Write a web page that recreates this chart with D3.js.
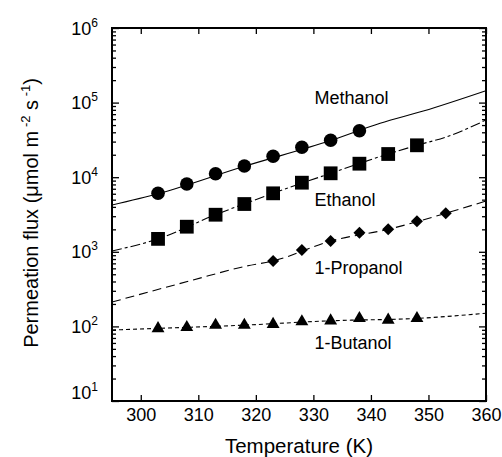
<!DOCTYPE html>
<html>
<head>
<meta charset="utf-8">
<script src="https://cdn.jsdelivr.net/npm/d3@7"></script>
<style>
  body { margin: 0; background: #fff; }
  text { font-family: "Liberation Sans", Arial, Helvetica, sans-serif; fill: #000; }
</style>
</head>
<body>
<svg id="chart" width="502" height="457"></svg>
<script>
// Measured permeation flux (µmol m^-2 s^-1) vs temperature (K)
const methanolT = [303, 308, 313, 318, 323, 328, 333, 338];
const methanolFlux = [6080, 8110, 11140, 14130, 19050, 25180, 31240, 42000];

const ethanolT = [303, 308, 313, 318, 323, 328, 333, 338, 343, 348];
const ethanolFlux = [1490, 2170, 3140, 4370, 6080, 8440, 11280, 15170, 20460, 26770];

const propanolT = [323, 328, 333, 338, 343, 348, 353];
const propanolFlux = [753, 1057, 1396, 1803, 2003, 2563, 3281];

const butanolT = [303, 308, 313, 318, 323, 328, 333, 338, 343, 348];
const butanolFlux = [94, 97, 104, 104, 107, 116, 119, 128, 122, 128];

// Model curves (temperature, flux) across the full axis range
const methanolFitT = [295, 303, 318, 333, 341.6, 349.1, 360];
const methanolFitFlux = [4240, 6000, 14000, 31000, 52800, 77000, 144500];

const ethanolFitT = [295, 303, 313, 323, 333, 343, 348, 353.2, 360];
const ethanolFitFlux = [1025, 1490, 3140, 6080, 11280, 20460, 26770, 34900, 58400];

const propanolFitT = [295, 309.1, 318.4, 323, 333, 343, 353, 360];
const propanolFitFlux = [212, 419, 645, 753, 1396, 2003, 3281, 4800];

const butanolFitT = [295, 303, 318, 333, 348, 360];
const butanolFitFlux = [89.5, 94, 104, 119, 128, 150];

// Axis ticks
const xTicks = [300, 310, 320, 330, 340, 350, 360];
const yDecades = [1e1, 1e2, 1e3, 1e4, 1e5, 1e6];
const yExponents = ["1", "2", "3", "4", "5", "6"];

const seriesLabels = ["Methanol", "Ethanol", "1-Propanol", "1-Butanol"];

const svg = d3.select("#chart");
const x = d3.scaleLinear().domain([295, 360]).range([112, 486]);
const y = d3.scaleLog().domain([10, 1e6]).range([401, 28]);

const minorY = [];
for (let d = 10; d < 1e6; d *= 10) {
  for (let k = 2; k <= 9; k++) minorY.push(d * k);
}

// Inward ticks on all four sides
function styleAxis(g) {
  g.select(".domain").remove();
  g.selectAll(".tick line").attr("stroke", "#000").attr("stroke-width", 1.3);
}

svg.append("g")
  .attr("transform", `translate(0,${y.range()[0]})`)
  .call(d3.axisBottom(x).tickValues(xTicks).tickSize(-6).tickSizeOuter(0).tickPadding(7))
  .call(styleAxis)
  .call(g => g.selectAll(".tick text").attr("font-size", 18).attr("fill", "#000")
    .style("font-family", '"Liberation Sans", Arial, sans-serif'));

svg.append("g")
  .attr("transform", `translate(0,${y.range()[1]})`)
  .call(d3.axisTop(x).tickValues(xTicks).tickSize(-6).tickSizeOuter(0).tickFormat(""))
  .call(styleAxis);

[[d3.axisLeft, 112], [d3.axisRight, 486]].forEach(([axisFn, px]) => {
  svg.append("g")
    .attr("transform", `translate(${px},0)`)
    .call(axisFn(y).tickValues(yDecades).tickSize(-7).tickSizeOuter(0).tickFormat(""))
    .call(styleAxis);
  svg.append("g")
    .attr("transform", `translate(${px},0)`)
    .call(axisFn(y).tickValues(minorY).tickSize(-4).tickSizeOuter(0).tickFormat(""))
    .call(styleAxis);
});

// Plot frame
svg.append("rect")
  .attr("x", x.range()[0]).attr("y", y.range()[1])
  .attr("width", x.range()[1] - x.range()[0])
  .attr("height", y.range()[0] - y.range()[1])
  .attr("fill", "none").attr("stroke", "#000").attr("stroke-width", 2);

// Power-of-ten labels on the left axis
const yLab = svg.append("g");
yDecades.forEach((v, i) => {
  const lift = i === 0 ? -9 : 0;
  const t = yLab.append("text")
    .attr("x", 98).attr("y", y(v) + 6.5 + lift)
    .attr("text-anchor", "end");
  t.append("tspan").attr("font-size", 18).text("10");
  t.append("tspan").attr("font-size", 12).attr("dy", -8).text(yExponents[i]);
});

// Axis titles
svg.append("text")
  .attr("x", 299).attr("y", 453)
  .attr("text-anchor", "middle").attr("font-size", 20.5)
  .text("Temperature (K)");

const yt = svg.append("text")
  .attr("transform", "translate(38,213) rotate(-90)")
  .attr("text-anchor", "middle").attr("font-size", 20);
yt.append("tspan").text("Permeation flux (\u03bcmol m");
yt.append("tspan").attr("font-size", 13).attr("dy", -8).text(" -2");
yt.append("tspan").attr("dy", 8).text(" s");
yt.append("tspan").attr("font-size", 13).attr("dy", -8).text(" -1");
yt.append("tspan").attr("dy", 8).text(")");

// Curves
const line = d3.line().x(d => x(d[0])).y(d => y(d[1])).curve(d3.curveMonotoneX);
svg.append("clipPath").attr("id", "plotArea").append("rect")
  .attr("x", 112).attr("y", 28).attr("width", 374).attr("height", 373);

const fits = [
  { t: methanolFitT, f: methanolFitFlux, dash: null },
  { t: ethanolFitT, f: ethanolFitFlux, dash: "10,3,3,3" },
  { t: propanolFitT, f: propanolFitFlux, dash: "9,5" },
  { t: butanolFitT, f: butanolFitFlux, dash: "4,3" }
];
const curveG = svg.append("g").attr("clip-path", "url(#plotArea)");
fits.forEach(s => {
  curveG.append("path")
    .datum(s.t.map((t, i) => [t, s.f[i]]))
    .attr("d", line)
    .attr("fill", "none").attr("stroke", "#000").attr("stroke-width", 1.1)
    .attr("stroke-dasharray", s.dash);
});

// Markers
const markers = [
  { t: methanolT, f: methanolFlux, type: d3.symbolCircle, size: 145, rot: 0 },
  { t: ethanolT, f: ethanolFlux, type: d3.symbolSquare, size: 190, rot: 0 },
  { t: propanolT, f: propanolFlux, type: d3.symbolSquare, size: 72, rot: 45 },
  { t: butanolT, f: butanolFlux, type: d3.symbolTriangle, size: 72, rot: 0 }
];
markers.forEach(m => {
  const sym = d3.symbol().type(m.type).size(m.size);
  svg.append("g").selectAll("path")
    .data(m.t.map((t, i) => [t, m.f[i]]))
    .join("path")
    .attr("d", sym)
    .attr("transform", d => `translate(${x(d[0])},${y(d[1])}) rotate(${m.rot})`)
    .attr("fill", "#000");
});

// Series names
const labelBaselines = [104, 205.7, 274, 349];
seriesLabels.forEach((name, i) => {
  svg.append("text")
    .attr("x", 314.5).attr("y", labelBaselines[i])
    .attr("font-size", 18)
    .text(name);
});
</script>
</body>
</html>
